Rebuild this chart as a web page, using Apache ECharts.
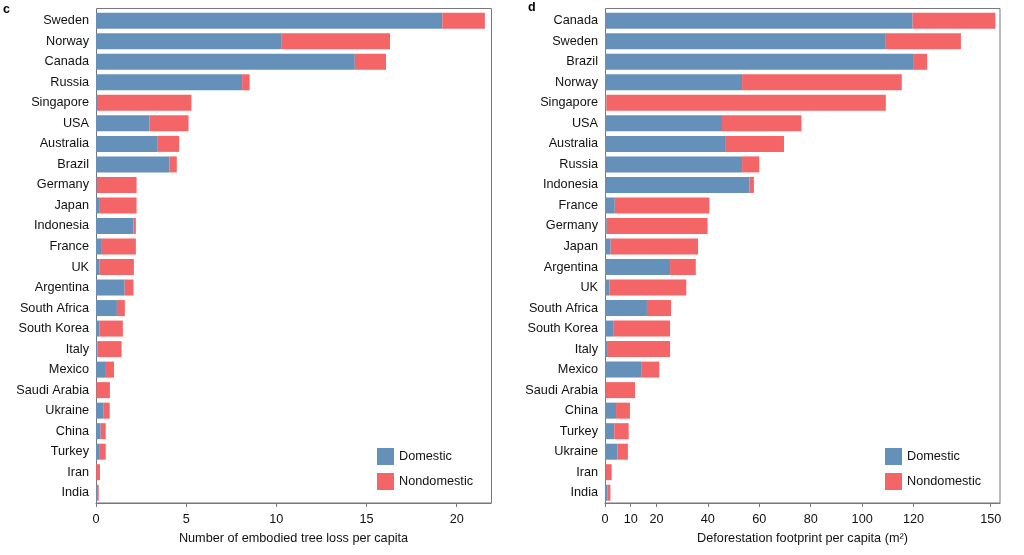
<!DOCTYPE html>
<html>
<head>
<meta charset="utf-8">
<script src="https://cdn.jsdelivr.net/npm/echarts@6/dist/echarts.min.js"></script>
<style>
html,body{margin:0;padding:0;background:#fff;}
#chart{width:1024px;height:555px;}
</style>
</head>
<body>
<div id="chart"></div>
<script>
// Panel c: embodied tree loss per capita
var catsC = ['Sweden','Norway','Canada','Russia','Singapore','USA','Australia','Brazil','Germany','Japan','Indonesia','France','UK','Argentina','South Africa','South Korea','Italy','Mexico','Saudi Arabia','Ukraine','China','Turkey','Iran','India'];
var domC = [19.2,10.3,14.35,8.1,0.05,2.97,3.39,4.08,0.04,0.17,2.08,0.28,0.18,1.59,1.16,0.18,0.07,0.55,0.02,0.40,0.26,0.17,0.01,0.05];
var nonC = [2.36,6.0,1.73,0.42,5.24,2.16,1.22,0.40,2.21,2.08,0.13,1.93,1.92,0.49,0.44,1.31,1.35,0.45,0.75,0.36,0.28,0.37,0.21,0.10];
var ticksC = [0,5,10,15,20];

// Panel d: deforestation footprint per capita (m2)
var catsD = ['Canada','Sweden','Brazil','Norway','Singapore','USA','Australia','Russia','Indonesia','France','Germany','Japan','Argentina','UK','South Africa','South Korea','Italy','Mexico','Saudi Arabia','China','Turkey','Ukraine','Iran','India'];
var domD = [119.6,109.2,120.1,53.3,0.5,45.5,47.0,53.3,56.2,3.8,0.7,2.2,25.3,1.8,16.3,3.4,0.8,14.3,0.2,4.3,3.6,4.8,0.2,0.9];
var nonD = [32.2,29.2,5.2,62.1,108.7,30.9,22.6,6.7,1.7,36.8,39.2,34.0,10.0,29.8,9.4,21.9,24.5,6.8,11.5,5.4,5.6,4.1,2.4,1.2];
var ticksD = [0,10,20,40,60,80,100,120,150];

var BLUE = '#6590BA';
var RED = '#F46567';
var FONT = 'Liberation Sans, Arial, sans-serif';
var FS = 12.7;

function xAxisCfg(gridIndex, max, ticks, name) {
  return {
    type: 'value', gridIndex: gridIndex, min: 0, max: max,
    name: name, nameLocation: 'middle', nameGap: 29,
    nameTextStyle: {fontFamily: FONT, fontSize: FS, color: '#111'},
    axisLine: {show: true, lineStyle: {color: '#777', width: 1}},
    axisTick: {show: true, length: 4, customValues: ticks, lineStyle: {color: '#777'}},
    axisLabel: {customValues: ticks, fontFamily: FONT, fontSize: FS, color: '#111', margin: 10},
    splitLine: {show: false}
  };
}
function yAxisCfg(gridIndex, cats) {
  return {
    type: 'category', gridIndex: gridIndex, data: cats, inverse: true,
    axisLine: {show: true, lineStyle: {color: '#777', width: 1}},
    axisTick: {show: false},
    axisLabel: {fontFamily: FONT, fontSize: FS, color: '#111', margin: 7},
    splitLine: {show: false}
  };
}
function legendCfg(left) {
  return {
    left: left, top: 448, orient: 'vertical', padding: 0,
    itemWidth: 17, itemHeight: 17, itemGap: 8,
    icon: 'rect',
    textStyle: {fontFamily: FONT, fontSize: FS, color: '#111'},
    data: ['Domestic', 'Nondomestic']
  };
}

var chart = echarts.init(document.getElementById('chart'), null, {renderer: 'canvas'});
chart.setOption({
  animation: false,
  backgroundColor: '#fff',
  grid: [
    {left: 96, right: 533, top: 10.5, bottom: 52, containLabel: false},
    {left: 605, right: 24, top: 10.5, bottom: 52, containLabel: false}
  ],
  xAxis: [
    xAxisCfg(0, 21.9, ticksC, 'Number of embodied tree loss per capita'),
    xAxisCfg(1, 153.6, ticksD, 'Deforestation footprint per capita (m²)')
  ],
  yAxis: [yAxisCfg(0, catsC), yAxisCfg(1, catsD)],
  legend: [legendCfg(377), legendCfg(885)],
  graphic: [
    {type: 'rect', shape: {x: 96.5, y: 8.5, width: 395, height: 494.5}, style: {fill: 'none', stroke: '#777', lineWidth: 1}, silent: true, z: 0},
    {type: 'rect', shape: {x: 605.5, y: 8.5, width: 394.5, height: 494.5}, style: {fill: 'none', stroke: '#777', lineWidth: 1}, silent: true, z: 0},
    {type: 'text', left: 3, top: 3, style: {text: 'c', fontFamily: FONT, fontWeight: 'bold', fontSize: 12.5, fill: '#000'}},
    {type: 'text', left: 528, top: 1, style: {text: 'd', fontFamily: FONT, fontWeight: 'bold', fontSize: 12.5, fill: '#000'}}
  ],
  series: [
    {name: 'Domestic', type: 'bar', xAxisIndex: 0, yAxisIndex: 0, stack: 'c', data: domC, barWidth: 16, itemStyle: {color: BLUE}},
    {name: 'Nondomestic', type: 'bar', xAxisIndex: 0, yAxisIndex: 0, stack: 'c', data: nonC, barWidth: 16, itemStyle: {color: RED}},
    {name: 'Domestic', type: 'bar', xAxisIndex: 1, yAxisIndex: 1, stack: 'd', data: domD, barWidth: 16, itemStyle: {color: BLUE}},
    {name: 'Nondomestic', type: 'bar', xAxisIndex: 1, yAxisIndex: 1, stack: 'd', data: nonD, barWidth: 16, itemStyle: {color: RED}}
  ]
});
</script>
</body>
</html>
